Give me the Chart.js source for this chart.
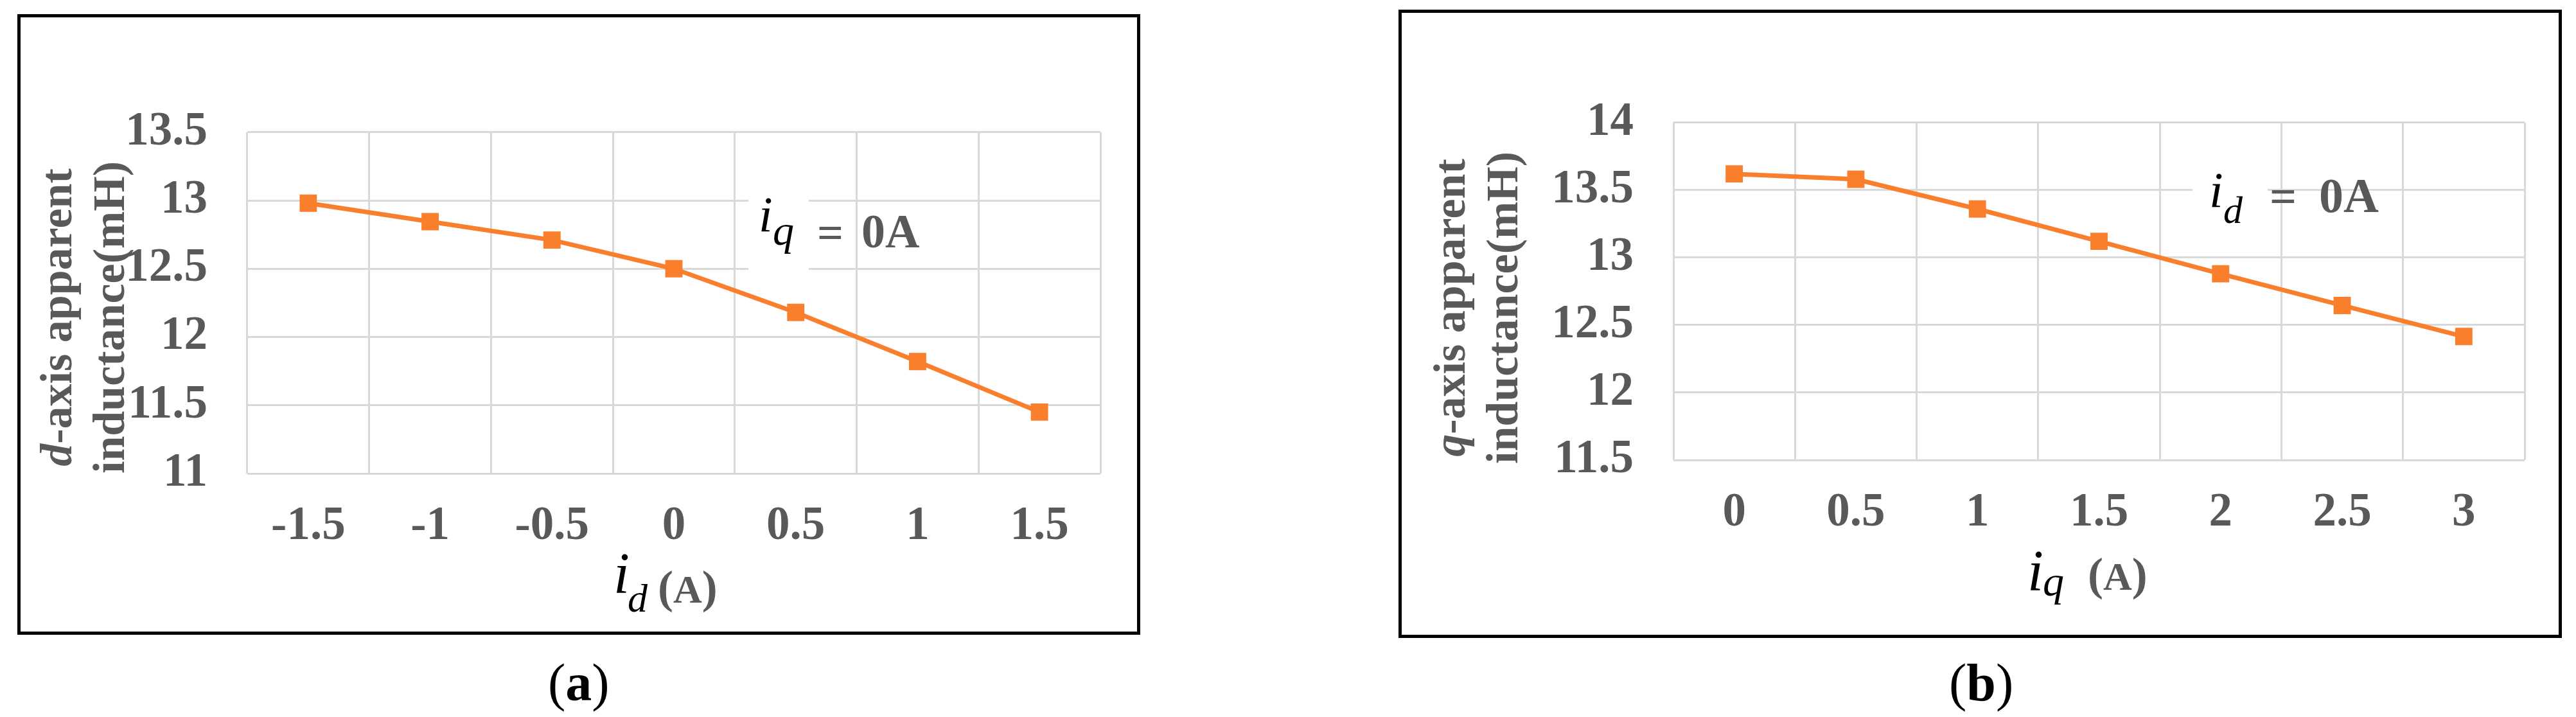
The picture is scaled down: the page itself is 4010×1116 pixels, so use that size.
<!DOCTYPE html>
<html>
<head>
<meta charset="utf-8">
<script src="https://cdn.jsdelivr.net/npm/chart.js@4.4.0/dist/chart.umd.min.js"></script>
<style>
body { margin:0; width:4010px; height:1116px; background:#fff; position:relative; overflow:hidden; font-family:'Liberation Serif','Times New Roman',serif; }
.frame { position:absolute; border:5px solid #000; box-sizing:border-box; }
canvas { position:absolute; }
.t { position:absolute; white-space:nowrap; line-height:1; }
.ytitle { position:absolute; width:600px; height:164px; text-align:center; font-weight:bold; color:#595959; font-size:70px; line-height:82px; transform:rotate(-90deg); white-space:nowrap; }
.mask { position:absolute; background:#fff; }
</style>
</head>
<body>
<div class="frame" style="left:27px;top:22px;width:1748px;height:966px"></div>
<div class="frame" style="left:2177px;top:15px;width:1811px;height:978px"></div>

<canvas id="chartA" width="1610" height="820" style="left:150px;top:100px"></canvas>
<canvas id="chartB" width="1590" height="820" style="left:2370px;top:85px"></canvas>

<div class="ytitle" style="left:-171px;top:412px"><i>d</i>-axis apparent<br>inductance(mH)</div>
<div class="ytitle" style="left:1998px;top:397px"><i>q</i>-axis apparent<br>inductance(mH)</div>

<div class="mask" style="left:1165px;top:300px;width:94px;height:124px"></div>
<div class="mask" style="left:3413px;top:230px;width:117px;height:130px"></div>

<script>
// d-axis: i_d sweep at i_q = 0
const idLabels = ['-1.5', '-1', '-0.5', '0', '0.5', '1', '1.5'];
const ldValues = [12.98, 12.845, 12.71, 12.5, 12.18, 11.82, 11.45];

// q-axis: i_q sweep at i_d = 0
const iqLabels = ['0', '0.5', '1', '1.5', '2', '2.5', '3'];
const lqValues = [13.62, 13.58, 13.36, 13.12, 12.88, 12.645, 12.415];

const ORANGE = '#F97F2D';
const GRID = '#D9D9D9';
const TICK = '#595959';

Chart.defaults.font.family = "'Liberation Serif', 'Times New Roman', serif";

function makeChart(id, labels, values, yMin, yMax, padRight, padTop, xAxisH) {
    return new Chart(document.getElementById(id), {
        type: 'line',
        data: {
            labels: labels,
            datasets: [{
                data: values,
                borderColor: ORANGE,
                backgroundColor: ORANGE,
                borderWidth: 7,
                tension: 0,
                pointStyle: 'rect',
                pointRadius: 19,
                pointBorderWidth: 0,
                pointBackgroundColor: ORANGE
            }]
        },
        options: {
            responsive: false,
            animation: false,
            devicePixelRatio: 1,
            layout: { padding: { top: padTop, right: padRight, left: 0, bottom: 0 } },
            plugins: { legend: { display: false }, tooltip: { enabled: false } },
            scales: {
                x: {
                    offset: true,
                    grid: { offset: true, color: GRID, lineWidth: 3, drawTicks: false },
                    border: { display: false },
                    ticks: { color: TICK, font: { size: 73, weight: 'bold' }, padding: 39, maxRotation: 0, autoSkip: false },
                    afterFit: s => { s.height = xAxisH; }
                },
                y: {
                    min: yMin, max: yMax,
                    grid: { color: GRID, lineWidth: 3, drawTicks: false },
                    border: { display: false },
                    ticks: {
                        stepSize: 0.5, color: TICK, font: { size: 73, weight: 'bold' }, padding: 62,
                        callback: v => String(Math.round(v * 10) / 10)
                    },
                    afterFit: s => { s.width = 235; }
                }
            }
        }
    });
}

makeChart('chartA', idLabels, ldValues, 11, 13.5, 47, 30, 183);
makeChart('chartB', iqLabels, lqValues, 11.5, 14, 30, 30, 189);

// text placed by baseline
function put(html, x, base, size, css) {
    const d = document.createElement('div');
    d.className = 't';
    d.innerHTML = html;
    d.style.cssText = 'left:' + x + 'px;top:' + (base - 0.8375 * size) + 'px;font-size:' + size + 'px;' + css;
    document.body.appendChild(d);
}
const ITAL = 'font-style:italic;color:#000;';
const GRAYB = 'font-weight:bold;color:#595959;';

// x axis titles
put('i', 955, 923, 90, ITAL);
put('d', 977, 952, 62, ITAL);
put('(<span style="font-size:62px">A</span>)', 1024, 938, 72, GRAYB);

put('i', 3156, 919, 90, ITAL);
put('q', 3180, 927, 66, ITAL);
put('(<span style="font-size:62px">A</span>)', 3250, 918, 72, GRAYB);

// annotations
put('i', 1181, 360, 78, ITAL);
put('q', 1203, 381, 66, ITAL);
put('=', 1272, 386, 72, GRAYB);
put('0A', 1341, 385, 74, GRAYB);

put('i', 3439, 322, 78, ITAL);
put('d', 3461, 347, 60, ITAL);
put('=', 3533, 331, 74, GRAYB);
put('0A', 3610, 330, 76, GRAYB);

// panel labels
put('(<b>a</b>)', 853, 1091, 82, 'color:#000;');
put('(<b>b</b>)', 3034, 1091, 82, 'color:#000;');
</script>
</body>
</html>
